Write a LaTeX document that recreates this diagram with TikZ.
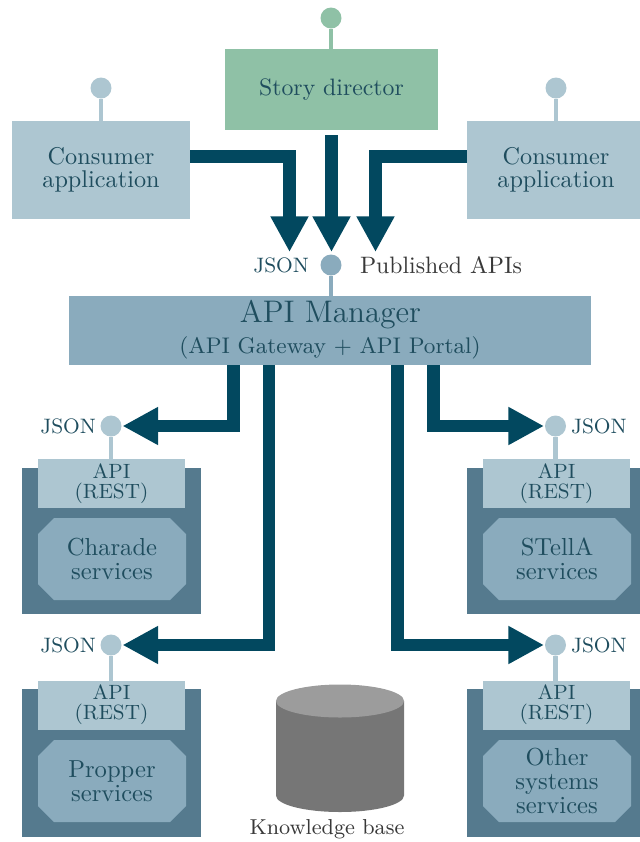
\documentclass[tikz,border=0pt]{standalone}
\usetikzlibrary{arrows.meta,calc}
\newcommand\pxu{0.41667pt}
\definecolor{sdgreen}{HTML}{8FC1A6}
\definecolor{lightbg}{HTML}{ADC6D1}
\definecolor{midbg}{HTML}{8AABBD}
\definecolor{darkbg}{HTML}{557A8E}
\definecolor{arrowc}{HTML}{02485F}
\definecolor{tealtxt}{HTML}{1F4D5E}
\definecolor{graytxt}{HTML}{383838}
\definecolor{kbtop}{HTML}{9C9C9C}
\definecolor{kbbody}{HTML}{767676}
\begin{document}
\begin{tikzpicture}[x=\pxu, y=-\pxu,
  box/.style={draw=none, inner sep=0pt, outer sep=0pt, text=tealtxt, align=center},
  flow/.style={draw=arrowc, line width=5.2pt, line join=miter,
    -{Triangle[width=14.8pt, length=14.8pt]}},
  port/.style={circle, inner sep=0pt, outer sep=0pt, minimum size=21*\pxu, draw=none},
  stem/.style={line width=1.7pt},
  lbl/.style={inner sep=0pt, outer sep=0pt},
  svbox/.style={fill=darkbg, inner sep=0pt, minimum width=179*\pxu, minimum height=146*\pxu},
  apibox/.style={box, fill=lightbg, minimum width=147*\pxu, minimum height=49*\pxu,
    font=\fontsize{8.6}{8.3}\selectfont},
  octbox/.style={box, fill=darkbg, minimum width=148*\pxu, minimum height=82*\pxu,
    font=\fontsize{10.25}{10}\selectfont,
    path picture={\fill[midbg]
      ([xshift=16*\pxu]path picture bounding box.north west) --
      ([xshift=-16*\pxu]path picture bounding box.north east) --
      ([yshift=-16*\pxu]path picture bounding box.north east) --
      ([yshift=16*\pxu]path picture bounding box.south east) --
      ([xshift=-16*\pxu]path picture bounding box.south east) --
      ([xshift=16*\pxu]path picture bounding box.south west) --
      ([yshift=16*\pxu]path picture bounding box.south west) --
      ([yshift=-16*\pxu]path picture bounding box.north west) -- cycle;}}
]
\useasboundingbox (0,0) rectangle (640,842);
\clip (0,0) rectangle (640,842);

% ---- top row ----
\node[box, fill=sdgreen, minimum width=213*\pxu, minimum height=81*\pxu,
  font=\fontsize{9.9}{11}\selectfont] (sd) at (331.5,89.5) {Story director};
\node[port, fill=sdgreen] (sdp) at (331,18) {};
\draw[sdgreen, stem] (sdp) -- (sd.north -| sdp);

\node[box, fill=lightbg, minimum width=178*\pxu, minimum height=98*\pxu,
  font=\fontsize{10.1}{9.6}\selectfont] (ca1) at (101,170) {Consumer\\application};
\node[port, fill=lightbg] (ca1p) at (101,88) {};
\draw[lightbg, stem] (ca1p) -- (ca1.north -| ca1p);

\node[box, fill=lightbg, minimum width=178*\pxu, minimum height=98*\pxu,
  font=\fontsize{10.1}{9.6}\selectfont] (ca2) at (556,170) {Consumer\\application};
\node[port, fill=lightbg] (ca2p) at (556,88) {};
\draw[lightbg, stem] (ca2p) -- (ca2.north -| ca2p);

% ---- API manager ----
\node[box, fill=midbg, minimum width=522*\pxu, minimum height=69*\pxu] (am) at (330,330.5) {};
\node[lbl, text=tealtxt, font=\fontsize{13}{14}\selectfont] (amt) at (330.5,315) {API Manager};
\node[lbl, text=tealtxt, font=\fontsize{9.4}{11}\selectfont] (ams) at (330,347.5) {(API Gateway + API Portal)};

\node[port, fill=midbg] (jp) at (331,265) {};
\draw[midbg, stem] (jp) -- (am.north -| jp);
\node[lbl, anchor=east, text=tealtxt, font=\fontsize{8.7}{10}\selectfont] (jl) at (309,265) {JSON};
\node[lbl, anchor=west, text=graytxt, font=\fontsize{9.9}{11}\selectfont] (pa) at (360,265) {Published APIs};

\coordinate (t1) at (289.5,252);
\coordinate (t2) at (331.5,252);
\coordinate (t3) at (375.5,252);
\draw[flow] ($(ca1.east)+(0,-13.5)$) -| (t1);
\draw[flow] ($(sd.south)+(0,5)$) -- (t2);
\draw[flow] ($(ca2.west)+(0,-13.5)$) -| (t3);

% ---- service blocks ----
\node[svbox] (s1) at (111.5,541) {};
\node[apibox] (api1) at (111.5,483.5) {API\\(REST)};
\node[octbox] (o1) at (112,559) {Charade\\services};

\node[svbox] (s2) at (556.5,541) {};
\node[apibox] (api2) at (556.5,483.5) {API\\(REST)};
\node[octbox] (o2) at (557,559) {STellA\\services};

\node[svbox, minimum height=148*\pxu] (s3) at (111.5,763) {};
\node[apibox] (api3) at (111.5,705) {API\\(REST)};
\node[octbox] (o3) at (112,781) {Propper\\services};

\node[svbox, minimum height=148*\pxu] (s4) at (556.5,763) {};
\node[apibox] (api4) at (556.5,705) {API\\(REST)};
\node[octbox] (o4) at (557,781) {Other\\systems\\services};

% ---- ports on services ----
\node[port, fill=lightbg] (p1) at (111,426) {};
\node[port, fill=lightbg] (p2) at (555.5,426) {};
\node[port, fill=lightbg] (p3) at (111,645) {};
\node[port, fill=lightbg] (p4) at (555.5,645) {};
\draw[lightbg, stem] (p1) -- (api1.north -| p1);
\draw[lightbg, stem] (p2) -- (api2.north -| p2);
\draw[lightbg, stem] (p3) -- (api3.north -| p3);
\draw[lightbg, stem] (p4) -- (api4.north -| p4);
\node[lbl, anchor=east, text=tealtxt, font=\fontsize{8.7}{10}\selectfont] (j1) at (96,426) {JSON};
\node[lbl, anchor=west, text=tealtxt, font=\fontsize{8.7}{10}\selectfont] (j2) at (571,426) {JSON};
\node[lbl, anchor=east, text=tealtxt, font=\fontsize{8.7}{10}\selectfont] (j3) at (96,645) {JSON};
\node[lbl, anchor=west, text=tealtxt, font=\fontsize{8.7}{10}\selectfont] (j4) at (571,645) {JSON};

\draw[flow, shorten >=1*\pxu] ($(am.south)+(-96.5,0)$) |- (p1.east);
\draw[flow, shorten >=1*\pxu] ($(am.south)+(-61,0)$) |- (p3.east);
\draw[flow, shorten >=1*\pxu] ($(am.south)+(67.5,0)$) |- (p4.west);
\draw[flow, shorten >=1*\pxu] ($(am.south)+(103.5,0)$) |- (p2.west);

% ---- knowledge base ----
\fill[kbbody] (276,701) -- (276,795.5)
  arc[start angle=180, end angle=360, x radius=26.67pt, y radius=6.875pt]
  -- (404,701) -- cycle;
\fill[kbtop] (340,701) ellipse[x radius=26.67pt, y radius=6.875pt];
\node[lbl, text=graytxt, font=\fontsize{9}{10}\selectfont] (kb) at (327,829.5) {Knowledge base};
\end{tikzpicture}
\end{document}
